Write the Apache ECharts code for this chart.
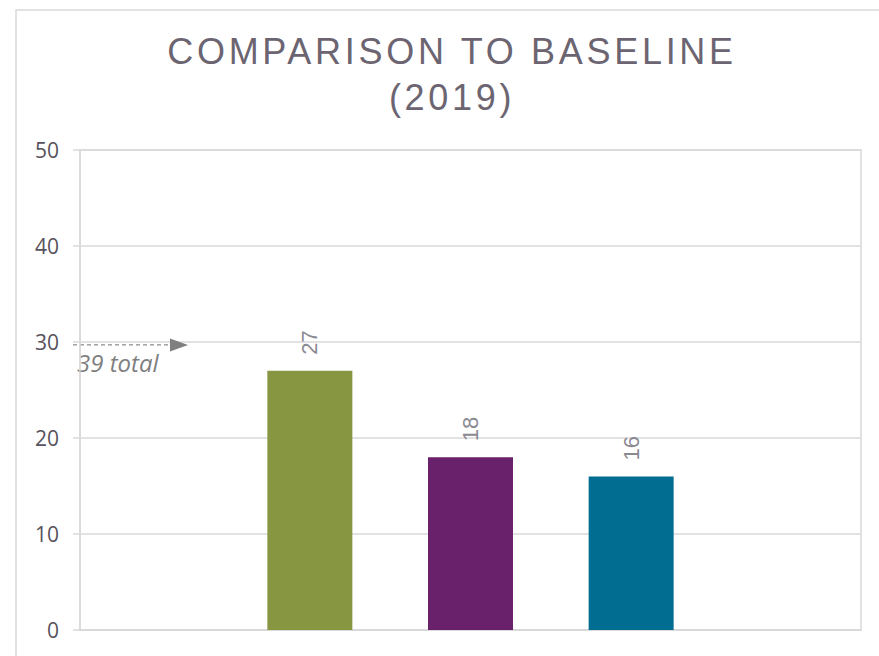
<!DOCTYPE html>
<html><head><meta charset="utf-8">
<script src="https://cdn.jsdelivr.net/npm/echarts@6/dist/echarts.min.js"></script>
<style>
html,body{margin:0;padding:0;background:#fff;}
#c{width:879px;height:656px;}
#c text[style*="36px"]{letter-spacing:3.7px !important;}
</style></head><body><div id="c"></div>
<script>
const titleLines = ['COMPARISON TO BASELINE', '(2019)'];
const categories = [''];
const seriesNames = ['Series 1', 'Series 2', 'Series 3'];
const values = [27, 18, 16];
const barColors = ['#879641', '#68216a', '#006d91'];
const yMin = 0, yMax = 50, yStep = 10;
const annotationText = '39 total';
const annotationLevel = 29.7;

const chart = echarts.init(document.getElementById('c'), null, {renderer: 'svg'});
const gridLine = '#d9d9d9';
chart.setOption({
  animation: false,
  backgroundColor: '#ffffff',
  grid: {left: 80, right: 18, top: 150, bottom: 26, show: true, borderColor: gridLine, borderWidth: 1.5, outerBoundsMode: 'none'},
  xAxis: {type: 'category', data: categories, axisLine: {show: true, lineStyle: {color: gridLine, width: 1.5}}, axisTick: {show: false}, axisLabel: {show: false}},
  yAxis: {type: 'value', min: yMin, max: yMax, interval: yStep,
    axisLine: {show: true, lineStyle: {color: gridLine, width: 1.5}},
    axisTick: {show: true, length: 7, lineStyle: {color: gridLine, width: 1.5}},
    splitLine: {show: true, lineStyle: {color: gridLine, width: 1.5}},
    axisLabel: {margin: 21, color: '#57525c', fontSize: 21, fontFamily: 'Open Sans'}},
  series: values.map((v, i) => ({
    name: seriesNames[i], type: 'bar', data: [v], barWidth: 85, barGap: '89%',
    itemStyle: {color: barColors[i]},
    label: {show: true, position: 'top', rotate: 90, align: 'left', verticalAlign: 'middle', distance: 16,
      color: '#8b8992', fontSize: 22, fontFamily: 'Liberation Sans'}
  }))
});
const ay = chart.convertToPixel({yAxisIndex: 0}, annotationLevel);
chart.setOption({
  graphic: [
    {type: 'rect', silent: true, z: -1, shape: {x: 16, y: 10, width: 900, height: 700}, style: {fill: 'none', stroke: '#d9d9d9', lineWidth: 1.5}},
    {type: 'text', x: 452, y: 74, style: {text: titleLines.join('\n'), fontSize: 36, fontFamily: 'Liberation Sans', fill: '#6c6571', align: 'center', verticalAlign: 'middle', lineHeight: 46}},
    {type: 'line', shape: {x1: 73, y1: ay, x2: 171, y2: ay}, style: {stroke: '#6f6f6f', lineWidth: 1, lineDash: [4, 3]}},
    {type: 'polygon', shape: {points: [[170, ay - 6.5], [188, ay], [170, ay + 6.5]]}, style: {fill: '#7f7f7f'}},
    {type: 'text', x: 77, y: ay + 18, style: {text: annotationText, fontStyle: 'italic', fontSize: 24, fontFamily: 'Open Sans', fill: '#7f7f7f', verticalAlign: 'middle'}}
  ]
});
</script></body></html>
